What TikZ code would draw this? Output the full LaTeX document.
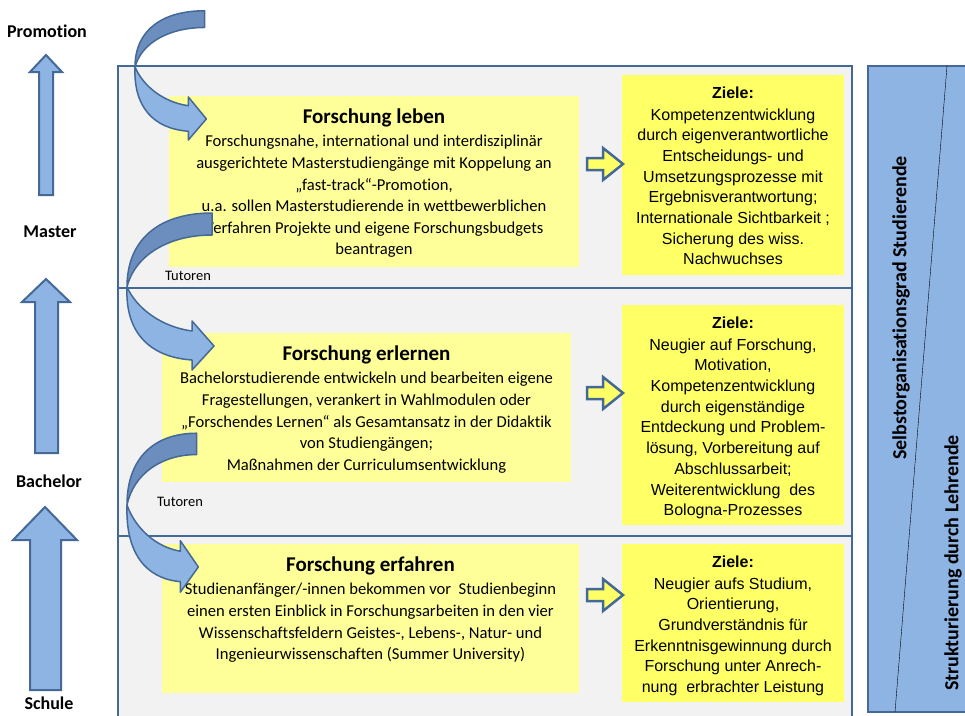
\documentclass[tikz,border=0pt]{standalone}
\usepackage{fontspec}
\setmainfont{Carlito}[Ligatures=NoCommon]
\newfontfamily\zielfont{Liberation Sans}
\usetikzlibrary{positioning}
\definecolor{rahmen}{RGB}{68,105,150}
\definecolor{hellgelb}{RGB}{255,255,153}
\definecolor{zielgelb}{RGB}{255,255,102}
\definecolor{pfeilblau}{RGB}{142,180,227}
\definecolor{pfeildunkel}{RGB}{108,142,190}
\definecolor{kasten}{RGB}{242,242,242}
\tikzset{
  lbox/.style={fill=hellgelb, inner sep=0pt},
  zbox/.style={fill=zielgelb, inner sep=0pt, minimum width=222pt},
  ltext/.style={align=center, inner sep=0pt, font=\fontsize{16.6}{21.6}\selectfont},
  ztext/.style={align=center, inner sep=0pt, font=\zielfont\fontsize{16}{20.7}\selectfont},
  stufe/.style={font=\bfseries\fontsize{18}{20}\selectfont},
  tutor/.style={font=\fontsize{14.5}{16}\selectfont},
  quer/.style={rotate=90, font=\bfseries\fontsize{20}{22}\selectfont},
  uparrow/.style={fill=pfeilblau, draw=rahmen, line width=2pt},
  yarrow/.style={fill=zielgelb, draw=rahmen, line width=2.5pt},
  bogen/.style={draw=rahmen, line width=1.5pt, line join=round}
}

\begin{document}
\begin{tikzpicture}[x=1pt,y=-1pt]
\useasboundingbox (0,0) rectangle (965,715);
% grauer Rahmen mit drei Stufen
\draw[fill=kasten, draw=rahmen, line width=2.5pt] (118,66) rectangle (852,740);
\draw[rahmen, line width=2.5pt] (118,288) -- (852,288);
\draw[rahmen, line width=2.5pt] (118,536) -- (852,536);

% Forschung leben / erlernen / erfahren
\node (leben) [lbox, minimum width=410pt, minimum height=171pt] at (374,181.5) {};
\node (erlernen) [lbox, minimum width=409pt, minimum height=149pt] at (366.5,407.5) {};
\node (erfahren) [lbox, minimum width=417pt, minimum height=149pt] at (370.5,618.5) {};

\node (lebentxt) [ltext, below=12.5pt of leben.north] {{\bfseries\fontsize{21}{22}\selectfont Forschung leben}\\[2pt]
Forschungsnahe, international und interdisziplinär\\
ausgerichtete Masterstudiengänge mit Koppelung an\\
„fast-track“-Promotion,\\
u.a. sollen Masterstudierende in wettbewerblichen\\
Verfahren Projekte und eigene Forschungsbudgets\\
beantragen};
\node (erlernentxt) [ltext, below=12.5pt of erlernen.north] {{\bfseries\fontsize{21}{22}\selectfont Forschung erlernen}\\[2pt]
Bachelorstudierende entwickeln und bearbeiten eigene\\
Fragestellungen, verankert in Wahlmodulen oder\\
„Forschendes Lernen“ als Gesamtansatz in der Didaktik\\
von Studiengängen;\\
Maßnahmen der Curriculumsentwicklung};
\node (erfahrentxt) [ltext, below=12.5pt of erfahren.north] {{\bfseries\fontsize{21}{22}\selectfont Forschung erfahren}\\[2pt]
Studienanfänger/-innen bekommen vor\ \ Studienbeginn\\
einen ersten Einblick in Forschungsarbeiten in den vier\\
Wissenschaftsfeldern Geistes-, Lebens-, Natur- und\\
Ingenieurwissenschaften (Summer University)};

\node (tut1) [tutor] at (188,276) {Tutoren};
\node (tut2) [tutor] at (180,502) {Tutoren};

% Ziele
\node (ziel1) [zbox, minimum height=200pt] at (733,175) {};
\node (ziel2) [zbox, minimum height=220pt] at (733,415) {};
\node (ziel3) [zbox, minimum height=158pt] at (733,623) {};

\node (ziel1txt) [ztext, below=11.5pt of ziel1.north] {\textbf{Ziele:}\\[1.3pt]
Kompetenzentwicklung\\
durch eigenverantwortliche\\
Entscheidungs- und\\
Umsetzungsprozesse mit\\
Ergebnisverantwortung;\\
Internationale Sichtbarkeit ;\\
Sicherung des wiss.\\
Nachwuchses};
\node (ziel2txt) [ztext, below=11.5pt of ziel2.north] {\textbf{Ziele:}\\[1.3pt]
Neugier auf Forschung,\\
Motivation,\\
Kompetenzentwicklung\\
durch eigenständige\\
Entdeckung und Problem-\\
lösung, Vorbereitung auf\\
Abschlussarbeit;\\
Weiterentwicklung\ \ des\\
Bologna-Prozesses};
\node (ziel3txt) [ztext, below=11.5pt of ziel3.north] {\textbf{Ziele:}\\[1.3pt]
Neugier aufs Studium,\\
Orientierung,\\
Grundverständnis für\\
Erkenntnisgewinnung durch\\
Forschung unter Anrech-\\
nung\ \ erbrachter Leistung};

% gelbe Pfeile zu den Zielen
\foreach \y in {164,393,595}
  \draw[yarrow] (587,\y-6) -- (603,\y-6) -- (603,\y-16) -- (623,\y) -- (603,\y+16) -- (603,\y+6) -- (587,\y+6) -- cycle;

% gebogene Pfeile (Tutoren)
\foreach \lx/\ly/\sx/\su/\sd in {135/67/0.82/0.76/0.88, 127/287/1/1/1, 127/505/0.82/0.97/1.05}{
  \begin{scope}[shift={(\lx,\ly)}, xscale=\sx, yscale=\su]
    \draw[bogen, fill=pfeildunkel] (0,0) .. controls (0,-50) and (35,-74) .. (85,-74) -- (85,-52)
      .. controls (42,-52) and (8,-32) .. (0,0) -- cycle;
  \end{scope}
  \begin{scope}[shift={(\lx,\ly)}, xscale=\sx, yscale=\sd]
    \draw[bogen, fill=pfeilblau] (0,0) .. controls (10,22) and (35,40) .. (65,44) -- (65,34) -- (87,59)
      -- (65,83) -- (65,73) .. controls (22,70) and (-2,45) .. (0,0) -- cycle;
  \end{scope}
}

% Stufen links
\node (promotion) [stufe] at (47,31) {Promotion};
\node (master) [stufe] at (50,232) {Master};
\node (bachelor) [stufe] at (49,481) {Bachelor};
\node (schule) [stufe] at (49,703) {Schule};

\draw[uparrow] (39,195) -- (39,72) -- (30,72) -- (46,55) -- (62,72) -- (53,72) -- (53,195) -- cycle;
\draw[uparrow] (35,453) -- (35,302) -- (22,302) -- (46,279) -- (70,302) -- (58,302) -- (58,453) -- cycle;
\draw[uparrow] (30,690) -- (30,540) -- (13,540) -- (45,507) -- (77,540) -- (61,540) -- (61,690) -- cycle;

% Balken rechts
\node (skala) [draw=rahmen, fill=pfeilblau, line width=2pt, inner sep=0pt,
  minimum width=110pt, minimum height=646pt] at (923,389) {};
\draw (947,66) -- (895,712);
\node (selbst) [quer] at (901,308) {Selbstorganisationsgrad Studierende};
\node (struktur) [quer] at (953,563) {Strukturierung durch Lehrende};
\end{tikzpicture}
\end{document}
